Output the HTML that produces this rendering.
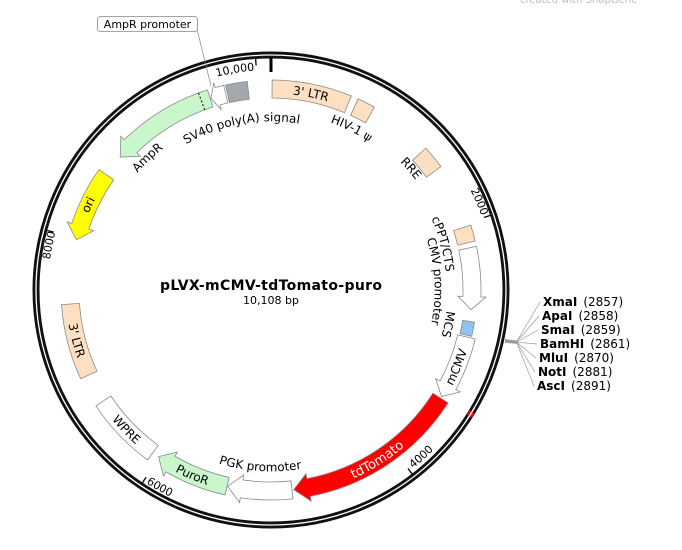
<!DOCTYPE html>
<html><head><meta charset="utf-8">
<style>
html,body{margin:0;padding:0;background:#fff;width:682px;height:550px;overflow:hidden}
svg{display:block;font-family:"DejaVu Sans","Liberation Sans",sans-serif}
</style></head>
<body>
<svg id="s" width="682" height="550" viewBox="0 0 682 550" xmlns="http://www.w3.org/2000/svg">
<defs id="d"></defs>
<text x="520" y="3" font-size="10" fill="#bbb">created with SnapGene</text>
<circle cx="271" cy="290" r="235" fill="none" stroke="#111" stroke-width="7"/>
<circle cx="271" cy="290" r="235" fill="none" stroke="#fff" stroke-width="1.3"/>
<g id="g"></g>
<text x="271" y="290" font-size="14" font-weight="bold" text-anchor="middle" textLength="222" fill="#000">pLVX-mCMV-tdTomato-puro</text>
<text x="271" y="304" font-size="11" text-anchor="middle" fill="#000">10,108 bp</text>
<rect x="97.5" y="16.5" width="100" height="15" rx="3" fill="#fff" stroke="#888" stroke-width="0.8"/>
<text x="147.5" y="28" font-size="11" text-anchor="middle">AmpR promoter</text>
<line x1="197" y1="29" x2="211" y2="86" stroke="#888" stroke-width="0.7"/>
</svg>
<script>
const NS="http://www.w3.org/2000/svg",cx=271,cy=290,g=document.getElementById('g'),defs=document.getElementById('d');
function P(r,a){const t=a*Math.PI/180;return (cx+r*Math.sin(t)).toFixed(2)+','+(cy-r*Math.cos(t)).toFixed(2);}
function add(tag,attrs,parent){const e=document.createElementNS(NS,tag);for(const k in attrs)e.setAttribute(k,attrs[k]);(parent||g).appendChild(e);return e;}
function box(a1,a2,fill,r1=192,r2=210){const L=(a2-a1)>180?1:0;
 add('path',{d:`M${P(r2,a1)} A${r2},${r2} 0 ${L} 1 ${P(r2,a2)} L${P(r1,a2)} A${r1},${r1} 0 ${L} 0 ${P(r1,a1)} Z`,fill:fill,stroke:'#8a8a8a','stroke-width':0.8});}
function arw(a1,a2,fill,cw,hl=14,r1=192,r2=210){const rm=(r1+r2)/2,h=hl/rm*180/Math.PI,e=5;let d;
 if(cw){const b=a2-h;d=`M${P(r2,a1)} A${r2},${r2} 0 0 1 ${P(r2,b)} L${P(r2+e,b)} L${P(rm,a2)} L${P(r1-e,b)} L${P(r1,b)} A${r1},${r1} 0 0 0 ${P(r1,a1)} Z`;}
 else{const b=a1+h;d=`M${P(r2,a2)} A${r2},${r2} 0 0 0 ${P(r2,b)} L${P(r2+e,b)} L${P(rm,a1)} L${P(r1-e,b)} L${P(r1,b)} A${r1},${r1} 0 0 1 ${P(r1,a2)} Z`;}
 add('path',{d:d,fill:fill,stroke:'#8a8a8a','stroke-width':0.8});}
let pid=0;
function lab(txt,rc,a,cw,size=12,fill='#000',weight='normal'){const r=cw?rc-0.36*size:rc+0.36*size;const id='p'+(pid++);
 const d=cw?`M${P(r,a-70)} A${r},${r} 0 0 1 ${P(r,a+70)}`:`M${P(r,a+70)} A${r},${r} 0 0 0 ${P(r,a-70)}`;
 add('path',{id:id,d:d,fill:'none'},defs);
 const t=add('text',{'font-size':size,fill:fill,'font-weight':weight});
 const tp=add('textPath',{href:'#'+id,startOffset:'50%','text-anchor':'middle'},t);tp.textContent=txt;}
box(0.3,22.5,'#fde0c2');
box(24.5,29.5,'#fde0c2');
box(47.5,54,'#fde0c2');
box(72,76.5,'#fde0c2');
arw(78,95.6,'#fff',true,13);
box(99,103,'#8fc3f2',194,206);
arw(103.5,122,'#fff',true,13);
arw(122.5,173.5,'#ff0000',true,15);
arw(174,192.4,'#fff',true,14);
arw(192.6,214,'#c9f7cb',true,14);
box(216,236.5,'#fff');
box(245,266,'#fde0c2');
arw(284.5,305,'#ffff00',false,14);
arw(311.4,342.4,'#c9f7cb',false,15);
add('path',{d:`M${P(192,339.8)} L${P(210,339.8)}`,stroke:'#000','stroke-width':1,'stroke-dasharray':'2,2'});
arw(342.6,347,'#fff',false,7);
box(347.5,353.5,'#a3a7ae');
add('path',{d:`M${P(235,121.2)} A235,235 0 0 1 ${P(235,122.4)}`,fill:'none',stroke:'#f00','stroke-width':6});
add('path',{d:`M${P(235,120)} A235,235 0 0 1 ${P(235,124)}`,fill:'none',stroke:'#fff','stroke-width':1.3});
[356.2,71.2,142.5,213.7,284.9].forEach(a=>add('path',{d:`M${P(225,a)} L${P(232,a)}`,stroke:'#000','stroke-width':1.3}));
add('path',{d:`M${P(218,0)} L${P(232,0)}`,stroke:'#000','stroke-width':3});
lab("3' LTR",201,11.5,true);
lab("HIV-1 ψ",182,26.5,true);
lab("RRE",186,49,true);
lab("cPPT/CTS",180,75,true);
lab("CMV promoter",168,87,true);
lab("MCS",181,101,true);
lab("mCMV",201,112.5,false);
lab("tdTomato",201,148,false,13,'#fff');
lab("PGK promoter",177,183.5,false);
lab("PuroR",201,203,false);
lab("WPRE",201,226,false);
lab("3' LTR",201,255.5,false);
lab("ori",202,295,true);
lab("AmpR",182,317,true);
lab("SV40 poly(A) signal",173,349.7,true);
lab("10,000",224,350.7,true,11);
lab("2000",227,67,true,11);
lab("4000",224,138,false,11);
lab("6000",226,209.4,false,11);
lab("8000",227,281.4,true,11);
const enz=[["XmaI","(2857)",543,306],["ApaI","(2858)",542,320],["SmaI","(2859)",541,334],["BamHI","(2861)",540,348],["MluI","(2870)",539,362],["NotI","(2881)",538,376],["AscI","(2891)",537,390]];
enz.forEach((e,i)=>{
 add('polyline',{points:`505,${339.5+i*0.5} 517,${341+i*0.4} ${e[2]-3},${e[3]-4}`,fill:'none',stroke:'#999','stroke-width':0.7});
 const t=add('text',{x:e[2],y:e[3],'font-size':12,'font-weight':'bold'});t.textContent=e[0];
 const w=t.getComputedTextLength();
 const t2=add('text',{x:e[2]+w+6,y:e[3],'font-size':12});t2.textContent=e[1];
});
</script>
</body></html>
